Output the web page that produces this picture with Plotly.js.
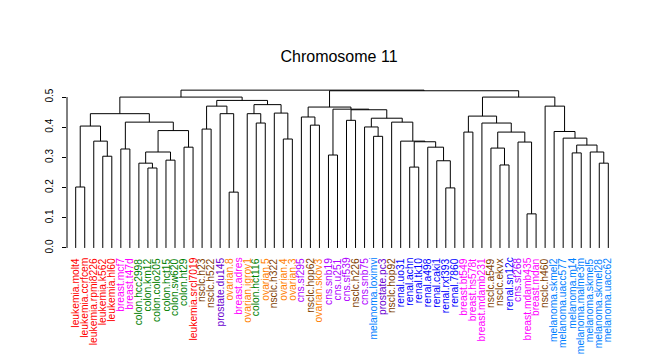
<!DOCTYPE html>
<html><head><meta charset="utf-8">
<script src="https://cdn.plot.ly/plotly-3.0.1.min.js"></script>
<style>html,body{margin:0;padding:0;background:#fff}</style>
</head><body><div id="chart" style="width:647px;height:360px"></div>
<script>
// Leaf labels in dendrogram order
const leafLabels = [
 'leukemia.molt4','leukemia.ccrfcem','leukemia.rpmi8226','leukemia.k562','leukemia.hl60',
 'breast.mcf7','breast.t47d','colon.hcc2998','colon.km12','colon.colo205','colon.hct15','colon.sw620','colon.ht29',
 'leukemia.srcl7019','nsclc.h23','nsclc.h522','prostate.du145','ovarian.8','breast.adres','ovarian.igrov1',
 'colon.hct116','ovarian.5','nsclc.h322','ovarian.4','ovarian.3','cns.sf295','nsclc.hop62','ovarian.skov3',
 'cns.snb19','cns.u251','cns.sf539','nsclc.h226','cns.snb75','melanoma.loximvi','prostate.pc3','nsclc.hop92',
 'renal.uo31','renal.achn','renal.tk10','renal.a498','renal.caki1','renal.rxf393','renal.7860',
 'breast.bt549','breast.hs578t','breast.mdamb231','nsclc.a549','nsclc.ekvx','renal.sn12c','cns.sf268',
 'breast.mdamb435','breast.mdan','nsclc.h460','melanoma.skmel2','melanoma.uacc577','melanoma.m14',
 'melanoma.malme3m','melanoma.skmel5','melanoma.skmel28','melanoma.uacc62'
];
const groupNames  = ['leukemia','breast','colon','nsclc','prostate','ovarian','cns','melanoma','renal'];
const groupColors = ['#FF0000','#FF00FF','#008000','#804000','#6A00D0','#FF8000','#B000FF','#0080FF','#0000FF'];

// Merges (R hclust style): negative = leaf position, positive = earlier merge number
const mergeLeft  = [-1,-4,-3, 1,-6,-9,-8,-11, 7,-13, 9, 5, 4,-15,-18,-17,14,-21,-20,-24,-23,19,17,13,
                    -27,-26,-29,-31,-34,-33,-38,-42,-41,-40,31,-37,-36,30,28,27,26,
                    -44,-51,-50,-48,-47,46,-46,42,-59,-58,-56,52,-55,-54,-53,49,41,24];
const mergeRight = [-2,-5, 2, 3,-7,-10, 6,-12, 8,-14,10,11,12,-16,-19,15,16,-22,18,-25,20,21,22,23,
                    -28,25,-30,-32,-35,29,-39,-43,32,33,34,35,36,37,38,39,40,
                    -45,-52,43,-49,45,44,47,48,-60,50,-57,51,53,54,55,56,57,58];
const mergeHeight = [0.202,0.304,0.354,0.404,0.328,0.265,0.281,0.291,0.318,0.334,0.389,0.417,0.445,
                     0.394,0.185,0.445,0.470,0.414,0.445,0.361,0.447,0.475,0.489,0.500,
                     0.407,0.434,0.308,0.423,0.370,0.401,0.268,0.199,0.289,0.334,0.352,0.354,0.417,
                     0.430,0.458,0.460,0.467,
                     0.384,0.113,0.351,0.275,0.331,0.384,0.414,0.437,0.281,0.318,0.315,0.341,0.364,
                     0.386,0.470,0.500,0.521,0.523];

const yTickVals = [0, 0.1, 0.2, 0.3, 0.4, 0.5];
const yTickText = ['0.0','0.1','0.2','0.3','0.4','0.5'];
const chartTitle = 'Chromosome 11';

// Build dendrogram segments from the merge table
const mPos = [], mHt = [];
const xOf = id => id < 0 ? -id : mPos[id - 1];
const yOf = id => id < 0 ? 0 : mHt[id - 1];
const xs = [], ys = [];
for (let k = 0; k < mergeLeft.length; k++) {
  const a = mergeLeft[k], b = mergeRight[k], h = mergeHeight[k];
  const xa = xOf(a), xb = xOf(b);
  xs.push(xa, xa, xb, xb, null);
  ys.push(yOf(a), h, h, yOf(b), null);
  mPos.push((xa + xb) / 2);
  mHt.push(h);
}

const FONT = 'Liberation Sans, Arial, sans-serif';
const colorOf = lab => groupColors[groupNames.indexOf(lab.split('.')[0])];

const annotations = leafLabels.map((lab, i) => ({
  x: i + 1, y: 0, xref: 'x', yref: 'y', yshift: -9,
  text: lab, textangle: -90, showarrow: false,
  xanchor: 'center', yanchor: 'top', borderpad: 0,
  font: {family: FONT, size: 10.3, color: colorOf(lab)}
}));

const trace = {
  x: xs, y: ys, type: 'scatter', mode: 'lines',
  line: {color: '#000', width: 1}, hoverinfo: 'skip', showlegend: false
};

const layout = {
  width: 647, height: 360,
  margin: {l: 67, r: 30, t: 82.2, b: 105.7},
  paper_bgcolor: '#fff', plot_bgcolor: '#fff',
  font: {family: FONT, color: '#000'},
  title: {text: chartTitle, x: 339/647, xanchor: 'center', y: 1 - 56/360, yanchor: 'middle',
          font: {family: FONT, size: 16, color: '#000'}},
  xaxis: {range: [0.036, 60.964], showgrid: false, zeroline: false, showline: false,
          showticklabels: false, ticks: ''},
  yaxis: {range: [-0.02, 0.55], showgrid: false, zeroline: false, showline: false,
          tickmode: 'array', tickvals: yTickVals, ticktext: yTickText,
          ticks: 'outside', ticklen: 4, tickwidth: 1, tickcolor: '#000',
          tickangle: -90, ticklabelstandoff: 5,
          tickfont: {family: FONT, size: 10, color: '#000'}},
  shapes: [{type: 'line', xref: 'paper', yref: 'y', x0: 0, x1: 0,
            y0: yTickVals[0], y1: yTickVals[yTickVals.length - 1],
            line: {color: '#000', width: 1}}],
  annotations: annotations
};

Plotly.newPlot('chart', [trace], layout, {displayModeBar: false, staticPlot: true});
</script>
</body></html>
